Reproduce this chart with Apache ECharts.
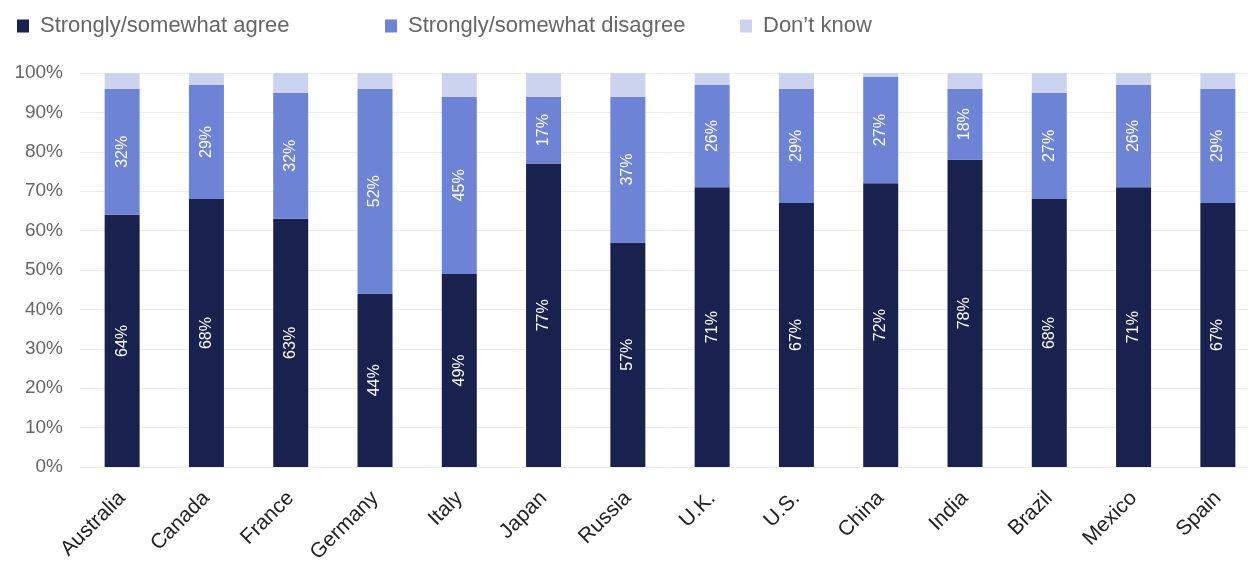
<!DOCTYPE html>
<html><head><meta charset="utf-8">
<script src="https://cdn.jsdelivr.net/npm/echarts@6/dist/echarts.min.js"></script>
<style>html,body{margin:0;padding:0;background:#fff}#c{width:1248px;height:562px}</style>
</head><body><div id="c"></div>
<script>
const categories = ['Australia','Canada','France','Germany','Italy','Japan','Russia','U.K.','U.S.','China','India','Brazil','Mexico','Spain'];
const agree = [64,68,63,44,49,77,57,71,67,72,78,68,71,67];
const disagree = [32,29,32,52,45,17,37,26,29,27,18,27,26,29];
const dontKnow = [4,3,5,4,6,6,6,3,4,1,4,5,3,4];
const yTicks = [0,10,20,30,40,50,60,70,80,90,100];
const seriesNames = ['Strongly/somewhat agree','Strongly/somewhat disagree','Don\u2019t know'];
const colors = ['#19224f','#6d83d5','#ccd3ef'];

const chart = echarts.init(document.getElementById('c'));
const font = 'Liberation Sans, Arial, sans-serif';
const lbl = {show:true, rotate:90, color:'#fff', fontSize:16, fontFamily:font, formatter: p => p.value + '%'};
const legendText = {color:'#666', fontSize:22, fontFamily:font, padding:[0,0,0,6]};
chart.setOption({
  animation:false,
  legend:[
    {left:12, top:10, itemWidth:12, itemHeight:13, icon:'rect', data:[seriesNames[0]], textStyle:legendText},
    {left:380, top:10, itemWidth:12, itemHeight:13, icon:'rect', data:[seriesNames[1]], textStyle:legendText},
    {left:735, top:10, itemWidth:12, itemHeight:13, icon:'rect', data:[seriesNames[2]], textStyle:legendText}
  ],
  grid:{left:80, right:-12, top:73, bottom:95, containLabel:false, outerBoundsMode:'none'},
  xAxis:{type:'category', data:categories,
    axisLine:{show:false}, axisTick:{show:false},
    axisLabel:{rotate:45, interval:0, color:'#222', fontSize:21, fontFamily:font, margin:28}},
  yAxis:{type:'value', min:0, max:100, interval:10,
    axisLabel:{formatter: v => v + '%', color:'#666', fontSize:19, fontFamily:font, margin:17},
    splitLine:{lineStyle:{color:'#ececec', width:1}},
    axisLine:{show:false}, axisTick:{show:false}},
  series:[
    {name:seriesNames[0], type:'bar', stack:'s', barWidth:35, data:agree, itemStyle:{color:colors[0]}, label:lbl},
    {name:seriesNames[1], type:'bar', stack:'s', barWidth:35, data:disagree, itemStyle:{color:colors[1]}, label:lbl},
    {name:seriesNames[2], type:'bar', stack:'s', barWidth:35, data:dontKnow, itemStyle:{color:colors[2]}}
  ]
});
</script></body></html>
